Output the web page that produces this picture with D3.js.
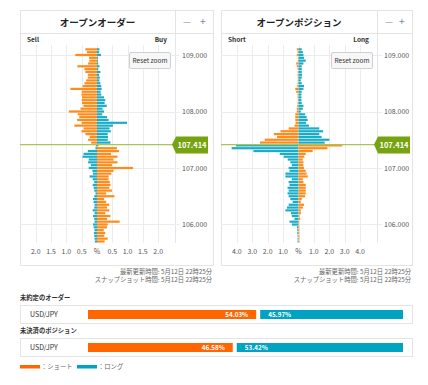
<!DOCTYPE html>
<html>
<head>
<meta charset="utf-8">
<script src="https://cdn.jsdelivr.net/npm/d3@7"></script>
<style>
  body { margin: 0; background: #fff; }
  svg { font-family: "Noto Sans CJK JP", "Noto Sans", sans-serif; }
</style>
</head>
<body>
<div id="chart"></div>
<script>
// price levels (0.05 steps) shown in both books
var prices = [109.10, 109.05, 109.00, 108.95, 108.90, 108.85, 108.80, 108.75, 108.70, 108.65,
  108.60, 108.55, 108.50, 108.45, 108.40, 108.35, 108.30, 108.25, 108.20, 108.15,
  108.10, 108.05, 108.00, 107.95, 107.90, 107.85, 107.80, 107.75, 107.70, 107.65,
  107.60, 107.55, 107.50, 107.45, 107.40, 107.35, 107.30, 107.25, 107.20, 107.15,
  107.10, 107.05, 107.00, 106.95, 106.90, 106.85, 106.80, 106.75, 106.70, 106.65,
  106.60, 106.55, 106.50, 106.45, 106.40, 106.35, 106.30, 106.25, 106.20, 106.15,
  106.10, 106.05, 106.00, 105.95, 105.90, 105.85, 105.80, 105.75, 105.70];

// open orders (%), left = sell side, right = buy side
var orderSell = [0.38, 0.33, 0.71, 0.26, 0.25, 0.29, 0.64, 0.41, 0.38, 0.30,
  0.30, 0.35, 0.41, 0.47, 0.87, 0.50, 0.51, 0.49, 0.50, 0.49,
  0.44, 0.54, 0.92, 0.63, 0.58, 0.65, 0.50, 0.74, 0.44, 0.51,
  0.38, 0.24, 0.29, 0.19, 0.04, 0.05, 0.30, 0.44, 0.47, 0.27,
  0.29, 0.20, 0.27, 0.15, 0.13, 0.24, 0.14, 0.09, 0.14, 0.11,
  0.09, 0.05, 0.09, 0.13, 0.11, 0.08, 0.09, 0.14, 0.08, 0.13,
  0.09, 0.08, 0.13, 0.11, 0.08, 0.10, 0.09, 0.08, 0.07];
var orderBuy = [0.08, 0.07, 0.13, 0.03, 0.03, 0.04, 0.08, 0.04, 0.11, 0.07,
  0.09, 0.08, 0.11, 0.14, 0.15, 0.12, 0.14, 0.23, 0.27, 0.25,
  0.32, 0.18, 0.23, 0.17, 0.33, 0.38, 0.98, 0.52, 0.41, 0.45,
  0.35, 0.36, 0.35, 0.44, 0.05, 0.65, 0.72, 0.46, 0.67, 0.54,
  0.67, 0.49, 1.18, 0.54, 0.47, 0.38, 0.38, 0.42, 0.44, 0.40,
  0.49, 0.30, 0.57, 0.23, 0.30, 0.40, 0.33, 0.40, 0.27, 0.44,
  0.33, 0.74, 0.35, 0.33, 0.22, 0.27, 0.24, 0.35, 0.25];

// open positions (%), left = short, right = long
var posShort = [0.11, 0.06, 0.11, 0.04, 0.05, 0.15, 0.11, 0.05, 0.05, 0.06,
  0.05, 0.05, 0.06, 0.08, 0.21, 0.15, 0.06, 0.06, 0.05, 0.06,
  0.08, 0.11, 0.11, 0.21, 0.21, 0.21, 0.19, 0.26, 0.64, 1.17,
  1.60, 1.39, 2.20, 2.50, 4.06, 4.34, 2.93, 1.22, 0.96, 0.70,
  0.53, 0.43, 0.64, 0.58, 0.85, 0.85, 0.43, 0.64, 0.58, 0.71,
  0.64, 0.71, 0.64, 0.53, 0.38, 0.64, 0.75, 0.85, 0.49, 0.43,
  0.26, 0.58, 0.43, 0.10, 0.08, 0.08, 0.06, 0.06, 0.06];
var posLong = [0.21, 0.28, 0.32, 0.36, 0.47, 0.32, 0.21, 0.21, 0.21, 0.23,
  0.21, 0.15, 0.21, 0.36, 0.32, 0.21, 0.19, 0.19, 0.19, 0.21,
  0.32, 0.28, 0.15, 0.43, 0.53, 0.60, 0.49, 0.68, 1.35, 1.60,
  1.35, 1.50, 2.00, 1.70, 2.84, 1.88, 0.92, 0.47, 0.38, 0.28,
  0.32, 0.32, 0.36, 0.47, 0.53, 0.60, 0.28, 0.32, 0.47, 0.47,
  0.47, 0.47, 0.43, 0.21, 0.15, 0.36, 0.28, 0.15, 0.15, 0.06,
  0.11, 0.04, 0.04, 0.05, 0.05, 0.05, 0.05, 0.05, 0.05];

var currentPrice = 107.414;
var priceTicks = [109, 108, 107, 106];
var orderTicks = [-2, -1.5, -1, -0.5, 0, 0.5, 1, 1.5, 2];
var posTicks = [-4, -3, -2, -1, 0, 1, 2, 3, 4];

var summaryPair = "USD/JPY";
var orderShortPct = 54.03, orderLongPct = 45.97;
var posShortPct = 46.58, posLongPct = 53.42;

var orange = "#ff8c1a", teal = "#1badc8";
var barOrange = "#ff6600", barTeal = "#00a3c1";
var grid = "#ececec", border = "#e4e4e4";

var svg = d3.select("#chart").append("svg")
  .attr("width", 428).attr("height", 385);

// shared price scale
var y = d3.scaleLinear().domain([105.6, 109.2]).range([247.1, 43.7]);

var panels = [
  { x0: 20, x1: 213, plotR: 175, dom: 2.5, ticks: orderTicks, title: "オープンオーダー",
    left: "Sell", right: "Buy", lv: orderSell, rv: orderBuy },
  { x0: 221, x1: 412, plotR: 377, dom: 5, ticks: posTicks, title: "オープンポジション",
    left: "Short", right: "Long", lv: posShort, rv: posLong }
];

panels.forEach(function(p) {
  var g = svg.append("g");
  var x = d3.scaleLinear().domain([-p.dom, p.dom]).range([p.x0 + 0.5, p.plotR - 1.5]);

  // frame
  g.append("rect").attr("x", p.x0 + 0.5).attr("y", 10.5)
    .attr("width", p.x1 - p.x0).attr("height", 255)
    .attr("fill", "#fff").attr("stroke", border);
  g.append("line").attr("x1", p.x0).attr("x2", p.x1).attr("y1", 33.5).attr("y2", 33.5)
    .attr("stroke", border);
  g.append("line").attr("x1", p.plotR + 0.5).attr("x2", p.plotR + 0.5).attr("y1", 10).attr("y2", 33)
    .attr("stroke", border);

  g.append("text").attr("x", (p.x0 + p.plotR) / 2).attr("y", 25.5)
    .attr("text-anchor", "middle").attr("font-size", 9.5).attr("font-weight", "bold")
    .attr("fill", "#222").text(p.title);
  g.append("text").attr("x", p.plotR + 8).attr("y", 25).attr("font-size", 9)
    .attr("fill", "#8a9aaa").text("—");
  g.append("text").attr("x", p.x1 - 13).attr("y", 25).attr("font-size", 10)
    .attr("fill", "#6f8aa5").text("+");

  g.append("text").attr("x", p.x0 + 7).attr("y", 42).attr("font-size", 6.5)
    .attr("font-weight", "bold").attr("fill", "#333").text(p.left);
  g.append("text").attr("x", p.plotR - 8).attr("y", 42).attr("text-anchor", "end")
    .attr("font-size", 6.5).attr("font-weight", "bold").attr("fill", "#333").text(p.right);

  // vertical grid
  g.selectAll(".vg").data(p.ticks).enter().append("line")
    .attr("x1", function(d) { return Math.round(x(d)) + 0.5; })
    .attr("x2", function(d) { return Math.round(x(d)) + 0.5; })
    .attr("y1", 45).attr("y2", 243).attr("stroke", grid);
  g.append("line").attr("x1", p.plotR + 0.5).attr("x2", p.plotR + 0.5)
    .attr("y1", 33).attr("y2", 243).attr("stroke", "#e0e6ee");

  // horizontal grid + price axis
  g.selectAll(".hg").data(priceTicks).enter().append("line")
    .attr("x1", p.x0).attr("x2", p.plotR + 5)
    .attr("y1", function(d) { return Math.round(y(d)) + 0.5; })
    .attr("y2", function(d) { return Math.round(y(d)) + 0.5; })
    .attr("stroke", grid);
  g.selectAll(".pl").data(priceTicks).enter().append("text")
    .attr("x", p.plotR + 7).attr("y", function(d) { return y(d) + 2.5; })
    .attr("font-size", 7).attr("fill", "#555")
    .text(function(d) { return d3.format(".3f")(d); });

  // x tick labels
  g.selectAll(".xl").data(p.ticks).enter().append("text")
    .attr("x", function(d) { return x(d); }).attr("y", 254)
    .attr("text-anchor", "middle").attr("font-size", 7).attr("fill", "#555")
    .text(function(d) { return d === 0 ? "%" : d3.format(".1f")(Math.abs(d)); });

  // bars
  var bh = 2.2;
  g.selectAll(".lb").data(prices).enter().append("rect")
    .attr("x", function(d, i) { return x(-p.lv[i]); })
    .attr("y", function(d) { return y(d) - bh / 2; })
    .attr("width", function(d, i) { return x(0) - x(-p.lv[i]); })
    .attr("height", bh)
    .attr("fill", function(d) { return d > currentPrice ? orange : teal; });
  g.selectAll(".rb").data(prices).enter().append("rect")
    .attr("x", x(0))
    .attr("y", function(d) { return y(d) - bh / 2; })
    .attr("width", function(d, i) { return x(p.rv[i]) - x(0); })
    .attr("height", bh)
    .attr("fill", function(d) { return d > currentPrice ? teal : orange; });

  // current price line and label
  var cy = y(currentPrice);
  g.append("line").attr("x1", p.x0).attr("x2", p.plotR).attr("y1", cy).attr("y2", cy)
    .attr("stroke", "#a9c556").attr("stroke-width", 1.3);
  g.append("path")
    .attr("d", "M" + (p.plotR - 3) + "," + cy + "L" + (p.plotR + 1) + "," + (cy - 8) +
      "L" + (p.plotR + 33) + "," + (cy - 8) + "L" + (p.plotR + 33) + "," + (cy + 9) +
      "L" + (p.plotR + 1) + "," + (cy + 9) + "Z")
    .attr("fill", "#76a30f");
  g.append("text").attr("x", p.plotR + 17).attr("y", cy + 3.5)
    .attr("text-anchor", "middle").attr("font-size", 7.5).attr("font-weight", "bold")
    .attr("fill", "#fff").text(d3.format(".3f")(currentPrice));

  // reset zoom button
  var bx = p.plotR - 46;
  g.append("rect").attr("x", bx + 0.5).attr("y", 52.5).attr("width", 41).attr("height", 16)
    .attr("rx", 1.5).attr("fill", "#f7f7f7").attr("stroke", "#d0d0d0");
  g.append("text").attr("x", bx + 21).attr("y", 62.5).attr("text-anchor", "middle")
    .attr("font-size", 6.5).attr("fill", "#333").text("Reset zoom");

  // timestamps
  g.append("text").attr("x", p.x1 - 1).attr("y", 274).attr("text-anchor", "end")
    .attr("font-size", 6.3).attr("fill", "#666").text("最新更新時間: 5月12日 22時25分");
  g.append("text").attr("x", p.x1 - 1).attr("y", 282).attr("text-anchor", "end")
    .attr("font-size", 6.3).attr("fill", "#666").text("スナップショット時間: 5月12日 22時25分");
});

// summary ratio bars
var sx = d3.scaleLinear().domain([0, 100]).range([88, 403]);
var rows = [
  { label: "未約定のオーダー", top: 305, s: orderShortPct, l: orderLongPct },
  { label: "未決済のポジション", top: 338, s: posShortPct, l: posLongPct }
];
rows.forEach(function(r) {
  svg.append("text").attr("x", 20).attr("y", r.top - 5).attr("font-size", 6.3)
    .attr("font-weight", "bold").attr("fill", "#333").text(r.label);
  svg.append("rect").attr("x", 20.5).attr("y", r.top + 0.5).attr("width", 392).attr("height", 18)
    .attr("fill", "#fff").attr("stroke", border);
  svg.append("text").attr("x", 30).attr("y", r.top + 12).attr("font-size", 7)
    .attr("fill", "#333").text(summaryPair);
  var mid = sx(r.s);
  svg.append("rect").attr("x", sx(0)).attr("y", r.top + 5).attr("width", mid - 2 - sx(0))
    .attr("height", 9).attr("fill", barOrange);
  svg.append("rect").attr("x", mid + 2).attr("y", r.top + 5).attr("width", sx(100) - mid - 2)
    .attr("height", 9).attr("fill", barTeal);
  svg.append("text").attr("x", mid - 10).attr("y", r.top + 11.8).attr("text-anchor", "end")
    .attr("font-size", 6.3).attr("font-weight", "bold").attr("fill", "#fff")
    .text(d3.format(".2f")(r.s) + "%");
  svg.append("text").attr("x", mid + 10).attr("y", r.top + 11.8)
    .attr("font-size", 6.3).attr("font-weight", "bold").attr("fill", "#fff")
    .text(d3.format(".2f")(r.l) + "%");
});

// legend
var legend = [{ c: barOrange, t: "：ショート", x: 20 }, { c: barTeal, t: "：ロング", x: 77 }];
legend.forEach(function(d) {
  svg.append("rect").attr("x", d.x).attr("y", 365).attr("width", 20).attr("height", 3.5)
    .attr("fill", d.c);
  svg.append("text").attr("x", d.x + 21).attr("y", 369).attr("font-size", 6.3)
    .attr("fill", "#666").text(d.t);
});
</script>
</body>
</html>
